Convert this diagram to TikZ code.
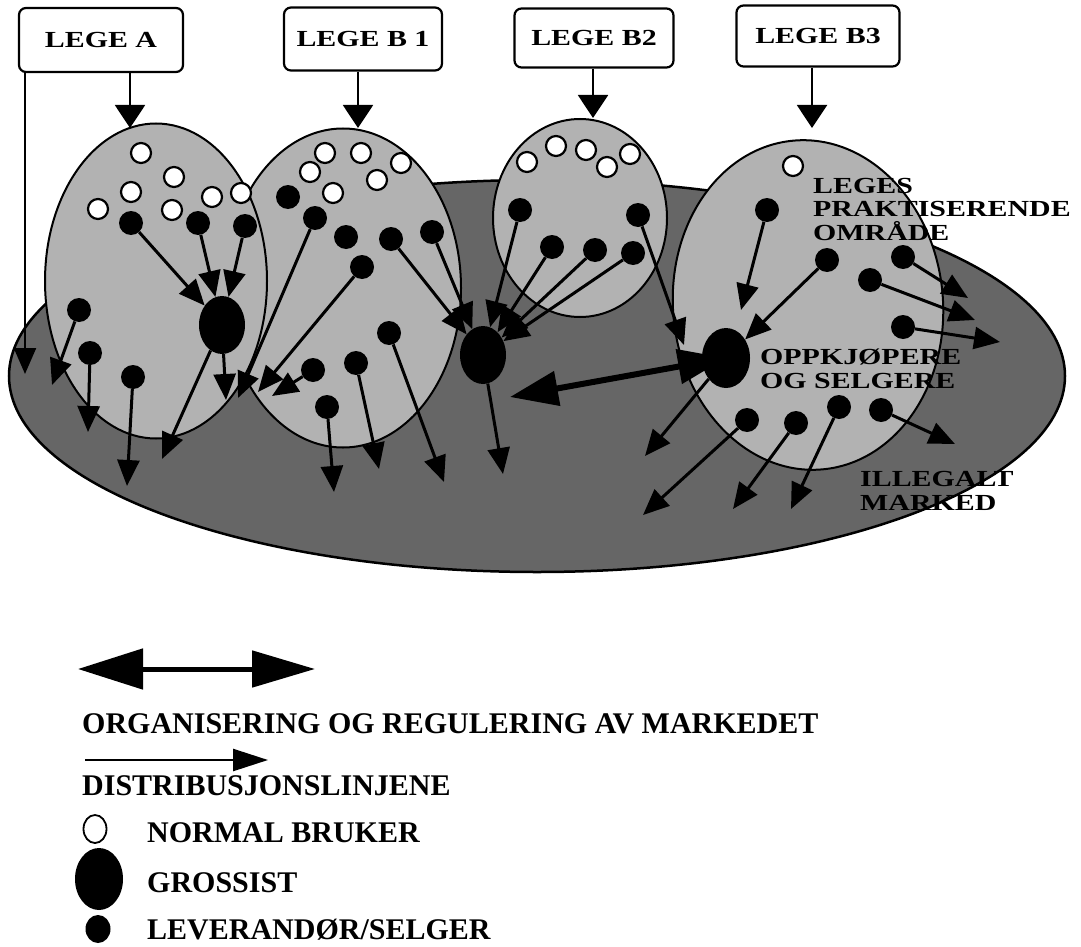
\documentclass[tikz,border=0pt]{standalone}
\usepackage{fontspec}
\setmainfont{Liberation Serif}
\newfontfamily\widefont[FakeStretch=1.3]{Liberation Serif}
\usetikzlibrary{arrows.meta,shapes.geometric}
\pgfdeclarelayer{back}
\pgfdeclarelayer{mid}
\pgfsetlayers{back,mid,main}
\definecolor{areagray}{gray}{0.70}
\definecolor{marketgray}{gray}{0.40}
\begin{document}
\begin{tikzpicture}[x=1pt,y=-1pt,
  lege/.style={draw, line width=2.2pt, rounded corners=7pt, fill=white, inner sep=0pt,
    font=\widefont\bfseries\fontsize{23}{23}\selectfont},
  user/.style={circle, draw, fill=white, line width=2.2pt, minimum size=20pt, inner sep=0pt},
  supplier/.style={circle, fill=black, minimum size=24pt, inner sep=0pt},
  gross/.style={ellipse, fill=black, minimum width=46pt, minimum height=58pt, inner sep=0pt},
  area/.style={ellipse, draw, line width=2pt, fill=areagray, inner sep=0pt},
  dist/.style={line width=3pt, -{Triangle[length=26pt,width=22pt]}},
  boxarrow/.style={line width=2pt, -{Triangle[length=23pt,width=30pt]}},
  lab/.style={font=\widefont\bfseries\fontsize{23}{23.5}\selectfont, inner sep=0pt, align=left, anchor=base west},
  legtext/.style={font=\bfseries\fontsize{30}{30}\selectfont, inner sep=0pt, anchor=base west}
]
\useasboundingbox (0,0) rectangle (1081,947);

% ---------- areas ----------
\begin{pgfonlayer}{back}
\node[area, fill=marketgray, line width=2.5pt, minimum width=1056pt, minimum height=392pt] (market) at (537,376) {};
\node[area, minimum width=236pt, minimum height=319pt] (areaB1) at (343,288) {};
\node[area, minimum width=222pt, minimum height=315pt] (areaA) at (156,281) {};
\node[area, minimum width=174pt, minimum height=198pt] (areaB2) at (580,218) {};
\node[area, minimum width=270pt, minimum height=330pt, rotate=5] (areaB3) at (808,305) {};
\end{pgfonlayer}

% ---------- boxes ----------
\node[lege, minimum width=164pt, minimum height=64pt] (legeA)  at (101,40) {LEGE A};
\node[lege, minimum width=158pt, minimum height=63pt] (legeB1) at (363,39) {LEGE B 1};
\node[lege, minimum width=159pt, minimum height=59pt] (legeB2) at (594,38) {LEGE B2};
\node[lege, minimum width=163pt, minimum height=61pt] (legeB3) at (818,36) {LEGE B3};

\coordinate (tipA)  at (130,128);
\coordinate (tipB1) at (358,128);
\coordinate (tipB2) at (593,118);
\coordinate (tipB3) at (812,128);
\coordinate (tipL)  at (25,374);

% ---------- normal users ----------
\foreach \n/\x/\y in {a1/141/153, a2/174/177, a3/131/192, a4/98/209, a5/172/210, a6/212/197, a7/241/193,
  b1/325/153, b2/361/153, b3/401/163, b4/310/172, b5/377/180, b6/333/193,
  c1/527/162, c2/556/146, c3/586/150, c4/607/167, c5/630/154, d1/793/166}
  \node[user] (u\n) at (\x,\y) {};

% ---------- suppliers ----------
\foreach \n/\x/\y in {A1/131/223, A2/198/223, A3/245/226, A4/79/310, A5/90/353, A6/133/377,
  B1/288/197, B2/315/218, B3/346/237, B4/391/239, B5/432/232, B6/362/267,
  B7/389/333, B8/356/363, B9/313/370, B10/327/407,
  C1/520/210, C2/552/247, C3/595/250, C4/633/253, C5/638/215,
  D1/767/210, D2/827/260, D3/903/257, D4/870/280, D5/903/327,
  D6/747/420, D7/796/423, D8/839/407, D9/881/410}
  \node[supplier] (s\n) at (\x,\y) {};

% ---------- grossists ----------
\node[gross] (gA)  at (222,325) {};
\node[gross] (gB)  at (483,355) {};
\node[gross, minimum width=48pt, minimum height=60pt] (gB3) at (726,358) {};

% ---------- free ends ----------
\foreach \n/\x/\y in {A4/52/385, A5/88/432, A6/127/486, GA1/162/459, GA2/226/400,
  B2/238/398, B6/258/392, B9/272/396, B7/444/482, B8/379/469, B10/334/492,
  C5/684/345, GB/503/474,
  D1/741/310, D3/968/298, D4/975/320, D5/1000/342,
  D6/643/515, D7/733/509, D8/791/509, D9/955/444, GB3/645/456}
  \coordinate (t\n) at (\x,\y);
\coordinate (dblL) at (510,397);

% ---------- connectors ----------
\begin{pgfonlayer}{mid}
\draw[boxarrow] (legeA.south -| tipA) -- (tipA);
\draw[boxarrow] (legeB1.south -| tipB1) -- (tipB1);
\draw[boxarrow] (legeB2.south -| tipB2) -- (tipB2);
\draw[boxarrow] (legeB3.south -| tipB3) -- (tipB3);
\draw[dist, line width=2.2pt] (legeA.south -| tipL) -- (tipL);

\draw[dist] (sA1) -- (gA);
\draw[dist] (sA2) -- (gA);
\draw[dist] (sA3) -- (gA);
\draw[dist] (sA4) -- (tA4);
\draw[dist] (sA5) -- (tA5);
\draw[dist] (sA6) -- (tA6);
\draw[dist] (gA) -- (tGA1);
\draw[dist] (gA) -- (tGA2);

\draw[dist] (sB2) -- (tB2);
\draw[dist] (sB6) -- (tB6);
\draw[dist] (sB9) -- (tB9);
\draw[dist] (sB7) -- (tB7);
\draw[dist] (sB8) -- (tB8);
\draw[dist] (sB10) -- (tB10);
\draw[dist] (sB4) -- (gB);
\draw[dist] (sB5) -- (gB);

\draw[dist] (sC1) -- (gB);
\draw[dist] (sC2) -- (gB);
\draw[dist] (sC3) -- (gB);
\draw[dist] (sC4) -- (gB);
\draw[dist] (sC5) -- (tC5);
\draw[dist] (gB) -- (tGB);

\draw[dist] (sD1) -- (tD1);
\draw[dist] (sD2) -- (gB3);
\draw[dist] (sD3) -- (tD3);
\draw[dist] (sD4) -- (tD4);
\draw[dist] (sD5) -- (tD5);
\draw[dist] (sD6) -- (tD6);
\draw[dist] (sD7) -- (tD7);
\draw[dist] (sD8) -- (tD8);
\draw[dist] (sD9) -- (tD9);
\draw[dist] (gB3) -- (tGB3);

\draw[line width=6pt, {Triangle[length=48pt,width=34pt]}-{Triangle[length=48pt,width=34pt]}] (dblL) -- (gB3.center);
\end{pgfonlayer}

% ---------- labels (anchor = baseline of last line) ----------
\node[lab] (legesLab) at (813,240) {LEGES\\PRAKTISERENDE\\OMRÅDE};
\node[lab] (oppLab) at (760,388) {OPPKJØPERE\\OG SELGERE};
\node[lab] (illLab) at (860,510) {ILLEGALT\\MARKED};

% ---------- legend ----------
\coordinate (lgL) at (78,669);
\coordinate (lgR) at (315,669);
\draw[line width=5pt, {Triangle[length=65pt,width=40pt]}-{Triangle[length=63pt,width=36pt]}] (lgL) -- (lgR);
\node[legtext] (legOrg) at (82,733) {ORGANISERING OG REGULERING AV MARKEDET};
\coordinate (laL) at (85,760);
\coordinate (laR) at (268,760);
\draw[line width=2.5pt, -{Triangle[length=35pt,width=22pt]}] (laL) -- (laR);
\node[legtext] (legDist) at (82,795) {DISTRIBUSJONSLINJENE};
\node[user, ellipse, minimum width=23pt, minimum height=28pt, line width=1.8pt] (legUser) at (95,829) {};
\node[legtext] (legUserT) at (147,842) {NORMAL BRUKER};
\node[gross, minimum width=48pt, minimum height=62pt] (legGross) at (99,879) {};
\node[legtext] (legGrossT) at (147,892) {GROSSIST};
\node[supplier, ellipse, minimum width=25pt, minimum height=28pt] (legSup) at (98,929) {};
\node[legtext] (legSupT) at (147,939) {LEVERANDØR/SELGER};
\end{tikzpicture}
\end{document}
